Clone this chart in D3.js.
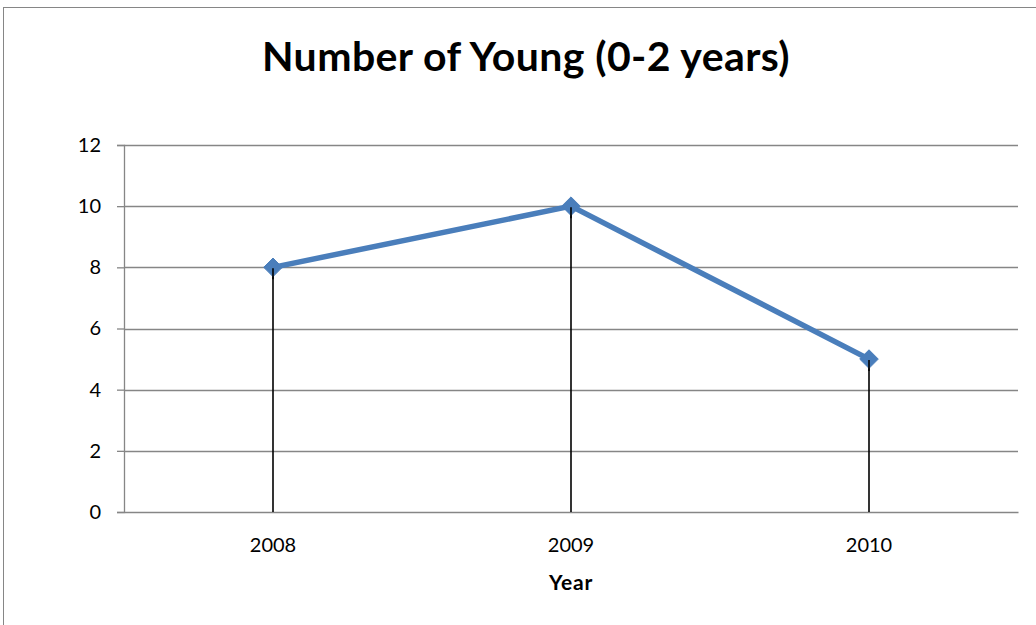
<!DOCTYPE html>
<html>
<head>
<meta charset="utf-8">
<script src="https://cdn.jsdelivr.net/npm/d3@7"></script>
<style>
  html, body { margin: 0; padding: 0; background: #fff; }
  svg { display: block; }
</style>
</head>
<body>
<svg id="chart" width="1036" height="625"></svg>
<script>
// Chart data
const years = ["2008", "2009", "2010"];
const youngCounts = [8, 10, 5];
const yTicks = [0, 2, 4, 6, 8, 10, 12];

const svg = d3.select("#chart");
const W = 1036, H = 625;
const margin = { top: 145, right: 18, bottom: 113, left: 124 };
const plotW = W - margin.left - margin.right;
const plotH = H - margin.top - margin.bottom;

const font = "Lato, 'Open Sans', sans-serif";

// Outer chart frame
svg.append("rect")
  .attr("x", 3.5).attr("y", 7.5)
  .attr("width", W + 10).attr("height", H + 10)
  .attr("fill", "#fff")
  .attr("stroke", "#868686").attr("stroke-width", 1);

// Title
svg.append("text")
  .attr("x", 526).attr("y", 71)
  .attr("text-anchor", "middle")
  .attr("font-family", font)
  .attr("font-weight", "bold")
  .attr("font-size", 41)
  .attr("letter-spacing", 0.4)
  .attr("fill", "#000")
  .text("Number of Young (0-2 years)");

const g = svg.append("g").attr("transform", `translate(${margin.left},${margin.top})`);

const x = d3.scaleBand().domain(years).range([0, plotW]);
const y = d3.scaleLinear().domain([0, 12]).range([plotH, 0]);

// Horizontal gridlines
g.append("g")
  .selectAll("line")
  .data(yTicks.filter(t => t > 0))
  .join("line")
  .attr("x1", 0).attr("x2", plotW)
  .attr("y1", d => Math.round(y(d)) + 0.5).attr("y2", d => Math.round(y(d)) + 0.5)
  .attr("stroke", "#868686").attr("stroke-width", 1.3);

// Y axis
const yAxis = g.append("g")
  .call(d3.axisLeft(y).tickValues(yTicks).tickSize(7).tickPadding(16).tickFormat(d3.format("d")));
yAxis.select(".domain").attr("stroke", "#868686").attr("stroke-width", 1.3);
yAxis.selectAll(".tick line").attr("stroke", "#868686").attr("stroke-width", 1.3);
yAxis.selectAll(".tick text")
  .attr("font-family", font).attr("font-size", 20).attr("fill", "#000");

// X axis
const xAxis = g.append("g")
  .attr("transform", `translate(0,${plotH})`)
  .call(d3.axisBottom(x).tickSize(0).tickPadding(26));
xAxis.select(".domain").attr("stroke", "#868686").attr("stroke-width", 1.3);
xAxis.selectAll(".tick text")
  .attr("font-family", font).attr("font-size", 20).attr("fill", "#000");

// X axis title
svg.append("text")
  .attr("x", margin.left + plotW / 2).attr("y", 590)
  .attr("text-anchor", "middle")
  .attr("font-family", font).attr("font-weight", "bold")
  .attr("font-size", 21).attr("letter-spacing", 0.8).attr("fill", "#000")
  .text("Year");

const cx = d => x(d) + x.bandwidth() / 2;
const points = years.map((yr, i) => ({ yr, v: youngCounts[i] }));

// Drop lines
g.append("g")
  .selectAll("line")
  .data(points)
  .join("line")
  .attr("x1", d => cx(d.yr)).attr("x2", d => cx(d.yr))
  .attr("y1", d => y(d.v)).attr("y2", plotH)
  .attr("stroke", "#000").attr("stroke-width", 1.6);

// Series line
g.append("path")
  .datum(points)
  .attr("fill", "none")
  .attr("stroke", "#4a7ebb")
  .attr("stroke-width", 5.5)
  .attr("stroke-linejoin", "round")
  .attr("d", d3.line().x(d => cx(d.yr)).y(d => y(d.v)));

// Diamond markers
g.append("g")
  .selectAll("path")
  .data(points)
  .join("path")
  .attr("transform", d => `translate(${cx(d.yr)},${y(d.v)})`)
  .attr("d", d3.symbol().type(d3.symbolDiamond2).size(220)())
  .attr("fill", "#4a7ebb")
  .attr("stroke", "#4a7ebb").attr("stroke-width", 1);

// Drop lines redrawn over the markers' lower halves
g.append("g")
  .selectAll("line")
  .data(points)
  .join("line")
  .attr("x1", d => cx(d.yr)).attr("x2", d => cx(d.yr))
  .attr("y1", d => y(d.v) + 1).attr("y2", d => y(d.v) + 12)
  .attr("stroke", "#000").attr("stroke-width", 1.6);
</script>
</body>
</html>
